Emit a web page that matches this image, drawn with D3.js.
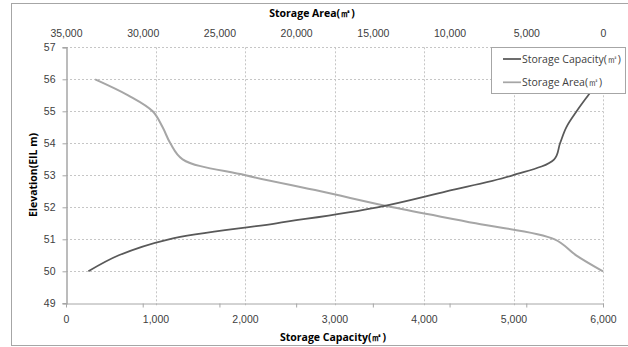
<!DOCTYPE html>
<html>
<head>
<meta charset="utf-8">
<script src="https://cdn.jsdelivr.net/npm/d3@7"></script>
<style>
  body { margin: 0; background: #fff; }
  svg { display: block; font-family: "Open Sans", sans-serif; }
  .axis text { fill: #404040; font-size: 10.5px; }
  .grid line { stroke: #c6c6c6; stroke-dasharray: 2,2; }
</style>
</head>
<body>
<div id="chart"></div>
<script>
// elevation (EL m) with storage capacity and storage area
var elevation = [50, 50.5, 51, 51.5, 52, 52.5, 53, 53.5, 54, 54.5, 55, 55.5, 56];
var capacity  = [250, 590, 1150, 2350, 3480, 4250, 4990, 5455, 5520, 5590, 5705, 5835, 5970];
var area      = [0, 1750, 3150, 8300, 13700, 18400, 23300, 27400, 28200, 28700, 29350, 30950, 33100];

var capTicks  = [0, 1000, 2000, 3000, 4000, 5000, 6000];
var areaTicks = [35000, 30000, 25000, 20000, 15000, 10000, 5000, 0];
var elevTicks = [49, 50, 51, 52, 53, 54, 55, 56, 57];

var seriesNames = ["Storage Capacity(㎡)", "Storage Area(㎡)"];

var W = 628, H = 347;
var pLeft = 66, pRight = 603, pTop = 47.3, pBottom = 303.3;

var svg = d3.select("#chart").append("svg")
    .attr("width", W)
    .attr("height", H);

// chart border
svg.append("rect")
    .attr("x", 11.5).attr("y", 3.5)
    .attr("width", 640).attr("height", 342)
    .attr("fill", "none").attr("stroke", "#a6a6a6");

var x = d3.scaleLinear().domain([0, 6000]).range([pLeft, pRight]);
var x2 = d3.scaleLinear().domain([35000, 0]).range([pLeft, pRight]);
var y = d3.scaleLinear().domain([49, 57]).range([pBottom, pTop]);
var fmt = d3.format(",");

// grid lines
var grid = svg.append("g").attr("class", "grid");
grid.selectAll("line.h")
    .data(elevTicks.slice(1))
    .enter().append("line")
    .attr("x1", pLeft).attr("x2", pRight)
    .attr("y1", function(d) { return Math.round(y(d)) + 0.5; })
    .attr("y2", function(d) { return Math.round(y(d)) + 0.5; });
grid.selectAll("line.v")
    .data(capTicks.slice(1))
    .enter().append("line")
    .attr("x1", function(d) { return Math.round(x(d)) + 0.5; })
    .attr("x2", function(d) { return Math.round(x(d)) + 0.5; })
    .attr("y1", pTop).attr("y2", pBottom + 3);

// bottom axis (storage capacity)
var xAxis = svg.append("g").attr("class", "axis")
    .attr("transform", "translate(0," + (Math.round(pBottom) + 0.5) + ")")
    .call(d3.axisBottom(x).tickValues(capTicks).tickFormat(fmt).tickSize(0).tickPadding(12));
xAxis.select(".domain").attr("stroke", "#a6a6a6");

// small ticks at the secondary positions along the bottom line
svg.append("g").attr("class", "axis")
    .attr("transform", "translate(0," + (Math.round(pBottom) + 0.5) + ")")
    .call(d3.axisBottom(x2).tickValues(areaTicks).tickFormat("").tickSize(4))
    .call(function(g) { g.select(".domain").remove(); })
    .selectAll("line").attr("stroke", "#a6a6a6");

// top axis (storage area, reversed)
svg.append("g").attr("class", "axis")
    .attr("transform", "translate(0," + pTop + ")")
    .call(d3.axisTop(x2).tickValues(areaTicks).tickFormat(fmt).tickSize(0).tickPadding(10))
    .call(function(g) { g.select(".domain").remove(); });

// left axis (elevation)
var yAxis = svg.append("g").attr("class", "axis")
    .attr("transform", "translate(" + (pLeft + 0.5) + ",0)")
    .call(d3.axisLeft(y).tickValues(elevTicks).tickSize(4).tickPadding(7));
yAxis.select(".domain").attr("stroke", "#a6a6a6").attr("stroke-width", 1.5);
yAxis.selectAll(".tick line").attr("stroke", "#a6a6a6");

// axis titles
svg.append("text")
    .attr("x", 312).attr("y", 16.5)
    .attr("text-anchor", "middle")
    .attr("font-size", 10.5).attr("font-weight", "bold").attr("fill", "#000")
    .text("Storage Area(㎡)");
svg.append("text")
    .attr("x", 333).attr("y", 341)
    .attr("text-anchor", "middle")
    .attr("font-size", 10.5).attr("font-weight", "bold").attr("fill", "#000")
    .text("Storage Capacity(㎡)");
svg.append("text")
    .attr("transform", "translate(37,175) rotate(-90)")
    .attr("text-anchor", "middle")
    .attr("font-size", 10.5).attr("font-weight", "bold").attr("fill", "#000")
    .text("Elevation(EIL m)");

// curves
var areaLine = d3.line()
    .x(function(d, i) { return x2(area[i]); })
    .y(function(d) { return y(d); })
    .curve(d3.curveCatmullRom.alpha(0.5));
var capLine = d3.line()
    .x(function(d, i) { return x(capacity[i]); })
    .y(function(d) { return y(d); })
    .curve(d3.curveCatmullRom.alpha(0.5));

svg.append("path")
    .datum(elevation)
    .attr("d", areaLine)
    .attr("fill", "none").attr("stroke", "#a6a6a6").attr("stroke-width", 2);
svg.append("path")
    .datum(elevation)
    .attr("d", capLine)
    .attr("fill", "none").attr("stroke", "#595959").attr("stroke-width", 1.75);

// legend
var legend = svg.append("g");
legend.append("rect")
    .attr("x", 491.5).attr("y", 47.5)
    .attr("width", 134).attr("height", 46)
    .attr("fill", "#fff").attr("stroke", "#a6a6a6");
var colors = ["#595959", "#a6a6a6"];
var item = legend.selectAll("g.item")
    .data(seriesNames)
    .enter().append("g")
    .attr("transform", function(d, i) { return "translate(503," + (59 + i * 23.3) + ")"; });
item.append("line")
    .attr("x1", 0).attr("x2", 18)
    .attr("stroke", function(d, i) { return colors[i]; })
    .attr("stroke-width", 1.75);
item.append("text")
    .attr("x", 19).attr("dy", "0.35em")
    .attr("font-size", 10.5).attr("fill", "#404040")
    .text(function(d) { return d; });
</script>
</body>
</html>
